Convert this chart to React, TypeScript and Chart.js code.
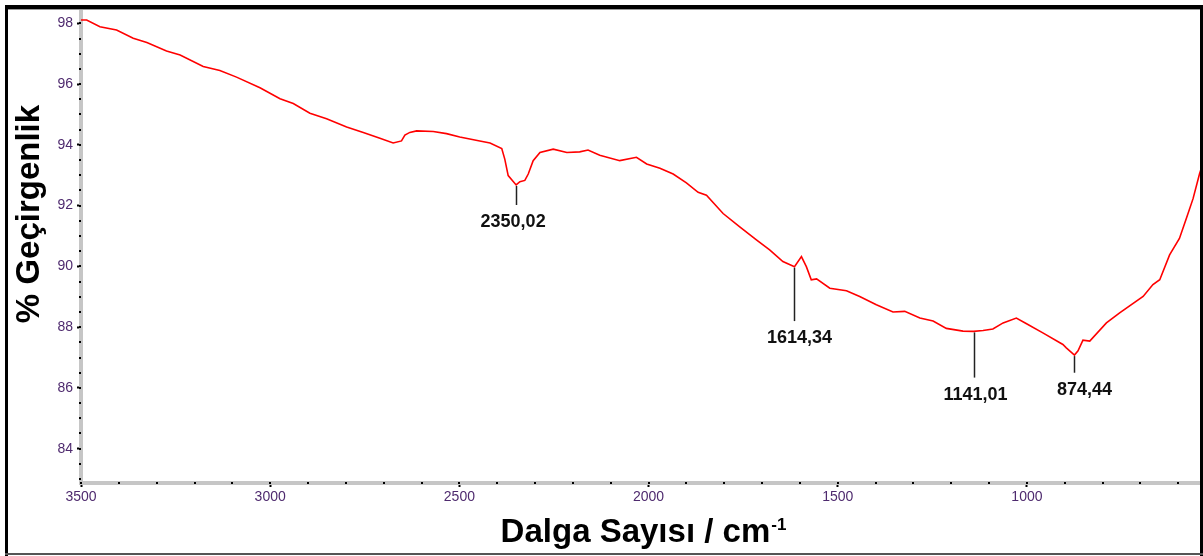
import React, { useEffect, useRef } from 'react';
import { Chart, registerables } from 'chart.js';

Chart.register(...registerables);

// ---- data ----
const wavenumbers = [
  3500, 3485, 3450, 3406, 3362, 3326, 3274, 3238, 3177, 3133, 3089, 3027, 2974, 2939, 2895,
  2851, 2798, 2754, 2710, 2675, 2653, 2644, 2631, 2613, 2569, 2534, 2499, 2446, 2419, 2388,
  2380, 2371, 2350.02, 2340, 2327, 2318, 2305, 2287, 2252, 2216, 2182, 2160, 2129, 2076, 2032,
  2005, 1970, 1935, 1900, 1869, 1847, 1803, 1759, 1715, 1680, 1645, 1614.34, 1596, 1583, 1570,
  1556, 1521, 1477, 1442, 1398, 1354, 1323, 1283, 1248, 1213, 1169, 1141.01, 1116, 1090, 1063,
  1028, 1001, 958, 905, 896, 874.44, 865, 852, 834, 790, 755, 693, 667, 649, 623,
  597, 579, 561, 544, 540,
];
const transmittance = [
  98.11, 98.11, 97.89, 97.78, 97.51, 97.37, 97.09, 96.96, 96.58, 96.45, 96.23, 95.88, 95.52, 95.36, 95.04,
  94.86, 94.59, 94.41, 94.22, 94.06, 94.13, 94.32, 94.41, 94.46, 94.44, 94.37, 94.26, 94.13, 94.06, 93.88,
  93.53, 92.99, 92.68, 92.79, 92.83, 93.04, 93.48, 93.75, 93.86, 93.75, 93.77, 93.83, 93.66, 93.48, 93.59,
  93.37, 93.23, 93.04, 92.75, 92.44, 92.34, 91.74, 91.3, 90.87, 90.54, 90.16, 89.99, 90.32, 89.99, 89.56,
  89.59, 89.28, 89.2, 89.01, 88.74, 88.5, 88.52, 88.3, 88.2, 87.96, 87.87, 87.86, 87.89, 87.94, 88.14,
  88.3, 88.11, 87.81, 87.43, 87.32, 87.08, 87.22, 87.57, 87.54, 88.14, 88.47, 89.01, 89.4, 89.56, 90.38,
  90.92, 91.57, 92.23, 93.04, 93.2,
];

const xTicks = [3500, 3000, 2500, 2000, 1500, 1000];
const yTicks = [84, 86, 88, 90, 92, 94, 96, 98];
const xMinorStep = 100;
const yMinorStep = 0.5;

const peakWavenumbers = [2350.02, 1614.34, 1141.01, 874.44];
const peakLabels = ['2350,02', '1614,34', '1141,01', '874,44'];
const peakLabelLevels = [91.46, 87.64, 85.78, 85.94];
const peakLabelCenters = [2358, 1601, 1136, 848];

const xTitle = 'Dalga Sayısı / cm';
const xTitleSup = '-1';
const yTitle = '% Geçirgenlik';

const FONT = '"Liberation Sans", Arial, sans-serif';
const TICK_COLOR = '#4e2a6e';

const decorPlugin = {
  id: 'decor',
  afterDraw(chart: any) {
    const ctx = chart.ctx;
    const xs = chart.scales.x;
    const ys = chart.scales.y;
    const area = chart.chartArea;
    ctx.save();

    // minor tick dots on the axis bands
    ctx.fillStyle = '#000';
    for (let w = 3500; w >= xs.min; w -= xMinorStep) {
      const px = xs.getPixelForValue(w);
      ctx.fillRect(Math.round(px) - 1, area.bottom - 1, 2, 2);
    }
    for (let v = 98; v >= ys.min; v -= yMinorStep) {
      const py = ys.getPixelForValue(v);
      ctx.fillRect(area.left - 2, Math.round(py) - 1, 2, 2);
    }

    // peak annotations
    ctx.font = `bold 18px ${FONT}`;
    ctx.textAlign = 'center';
    ctx.textBaseline = 'middle';
    peakWavenumbers.forEach((w, i) => {
      const idx = wavenumbers.indexOf(w);
      const px = xs.getPixelForValue(w);
      const pyCurve = ys.getPixelForValue(transmittance[idx]);
      const pyLabel = ys.getPixelForValue(peakLabelLevels[i]);
      ctx.strokeStyle = '#222';
      ctx.lineWidth = 1.5;
      ctx.beginPath();
      ctx.moveTo(Math.round(px) + 0.5, pyCurve + 1);
      ctx.lineTo(Math.round(px) + 0.5, pyLabel - 17);
      ctx.stroke();
      ctx.fillStyle = '#111';
      ctx.fillText(peakLabels[i], xs.getPixelForValue(peakLabelCenters[i]), pyLabel);
    });

    // y title
    ctx.save();
    ctx.translate(30, 214);
    ctx.rotate(-Math.PI / 2);
    ctx.font = `bold 33px ${FONT}`;
    ctx.fillStyle = '#000';
    ctx.textAlign = 'center';
    ctx.textBaseline = 'middle';
    ctx.fillText(yTitle, 0, 0);
    ctx.restore();

    // x title with superscript
    ctx.font = `bold 33px ${FONT}`;
    const w1 = ctx.measureText(xTitle).width;
    ctx.font = `bold 17px ${FONT}`;
    const w2 = ctx.measureText(xTitleSup).width;
    const startX = 643 - (w1 + w2) / 2;
    ctx.textAlign = 'left';
    ctx.textBaseline = 'alphabetic';
    ctx.fillStyle = '#000';
    ctx.font = `bold 33px ${FONT}`;
    ctx.fillText(xTitle, startX, 542);
    ctx.font = `bold 17px ${FONT}`;
    ctx.fillText(xTitleSup, startX + w1 + 1, 530);

    // outer frame
    ctx.fillStyle = '#000';
    ctx.fillRect(5, 5, 1198, 4);
    ctx.fillRect(5, 5, 3, 551);
    ctx.fillRect(1200, 5, 3, 551);
    ctx.fillStyle = '#555';
    ctx.fillRect(5, 553, 1198, 2);
    ctx.fillStyle = '#999';
    ctx.fillRect(8, 9, 1192, 1);

    ctx.restore();
  },
};

export default function App() {
  const canvasRef = useRef<HTMLCanvasElement | null>(null);

  useEffect(() => {
    document.body.style.margin = '0';
    const canvas = canvasRef.current;
    if (!canvas) return;
    const points = wavenumbers.map((w, i) => ({ x: w, y: transmittance[i] }));
    const chart = new Chart(canvas, {
      type: 'line',
      data: {
        datasets: [
          {
            data: points,
            borderColor: '#ff0000',
            borderWidth: 1.6,
            pointRadius: 0,
            tension: 0,
            fill: false,
          },
        ],
      },
      options: {
        animation: false,
        responsive: false,
        devicePixelRatio: 1,
        parsing: true,
        layout: { padding: { top: 9, right: 2, left: 0, bottom: 0 } },
        plugins: { legend: { display: false }, tooltip: { enabled: false }, title: { display: false } },
        scales: {
          x: {
            type: 'linear',
            reverse: true,
            min: 540,
            max: 3500,
            afterBuildTicks: (scale: any) => {
              scale.ticks = xTicks.map((v) => ({ value: v }));
            },
            afterFit: (scale: any) => {
              scale.height = 73;
            },
            border: { display: true, color: '#c6c6c6', width: 4 },
            grid: { display: true, drawOnChartArea: false, drawTicks: true, tickLength: 4, tickColor: '#000', tickWidth: 2 },
            ticks: {
              color: TICK_COLOR,
              font: { family: FONT, size: 14 },
              padding: 2,
              maxRotation: 0,
              autoSkip: false,
              callback: (value: any) => String(value),
            },
          },
          y: {
            type: 'linear',
            min: 82.87,
            max: 98.36,
            afterBuildTicks: (scale: any) => {
              scale.ticks = yTicks.map((v) => ({ value: v }));
            },
            afterFit: (scale: any) => {
              scale.width = 81;
            },
            border: { display: true, color: '#c6c6c6', width: 4 },
            grid: { display: true, drawOnChartArea: false, drawTicks: true, tickLength: 4, tickColor: '#000', tickWidth: 2 },
            ticks: {
              color: TICK_COLOR,
              font: { family: FONT, size: 14 },
              padding: 4,
              autoSkip: false,
              callback: (value: any) => String(value),
            },
          },
        },
      },
      plugins: [decorPlugin],
    } as any);
    return () => chart.destroy();
  }, []);

  return (
    <div style={{ width: 1203, height: 556, background: '#fff' }}>
      <canvas ref={canvasRef} width={1203} height={556} style={{ display: 'block' }} />
    </div>
  );
}
